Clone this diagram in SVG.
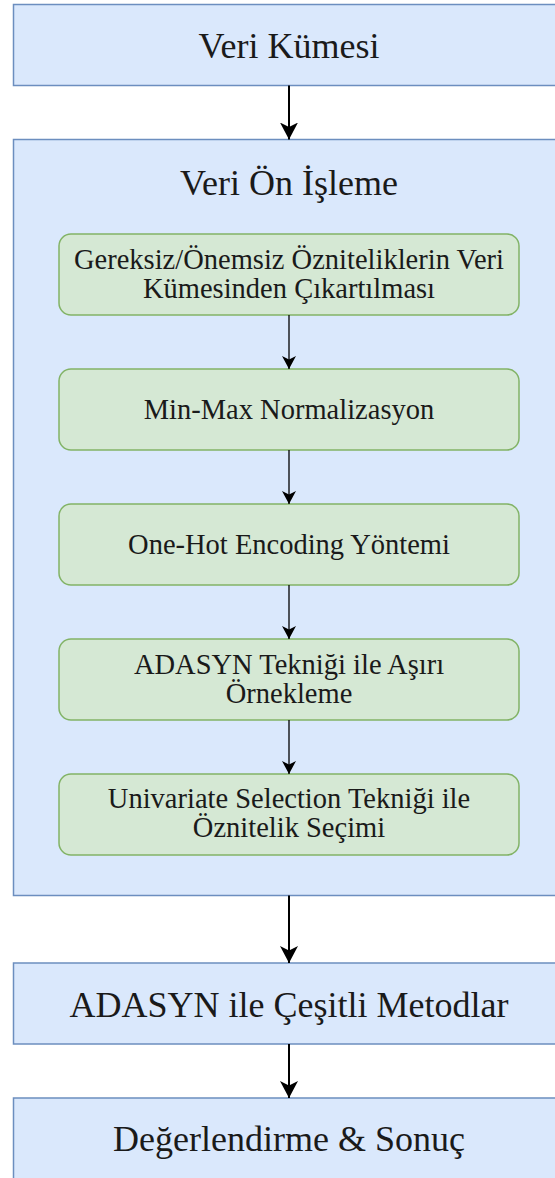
<svg xmlns="http://www.w3.org/2000/svg" width="555" height="1178" viewBox="0 0 555 1178">
  <defs>
    <style>
      .stage { fill: #dae8fc; stroke: #6c8ebf; stroke-width: 1.5; }
      .step { fill: #d5e8d4; stroke: #82b366; stroke-width: 1.5; }
      .big { font-family: "Liberation Serif", "Times New Roman", serif; font-size: 36px; fill: #1a1a1a; text-anchor: middle; }
      .small { font-family: "Liberation Serif", "Times New Roman", serif; font-size: 28.5px; fill: #1a1a1a; text-anchor: middle; }
      .flow { stroke: #000; stroke-width: 2; fill: none; }
      .subflow { stroke: #000; stroke-width: 1.3; fill: none; }
    </style>
    <marker id="headBig" markerUnits="userSpaceOnUse" markerWidth="18" markerHeight="18" refX="17" refY="9" orient="auto">
      <path d="M0,0 L17,9 L0,18 L4.5,9 Z" fill="#000"/>
    </marker>
    <marker id="headSmall" markerUnits="userSpaceOnUse" markerWidth="14" markerHeight="14" refX="13" refY="7" orient="auto">
      <path d="M0,0 L13,7 L0,14 L3.5,7 Z" fill="#000"/>
    </marker>
  </defs>

  <g id="veri-kumesi">
    <rect class="stage" x="13.5" y="4.5" width="560" height="81"/>
    <text class="big" x="289" y="58">Veri Kümesi</text>
  </g>

  <g id="veri-on-isleme">
    <rect class="stage" x="13.5" y="139.5" width="560" height="756"/>
    <text class="big" x="289" y="195">Veri Ön İşleme</text>
  </g>

  <g id="step-cikartma">
    <rect class="step" x="59" y="234" width="460" height="81" rx="12"/>
    <text class="small" x="289" y="268.5">Gereksiz/Önemsiz Özniteliklerin Veri</text>
    <text class="small" x="289" y="297.5">Kümesinden Çıkartılması</text>
  </g>

  <g id="step-minmax">
    <rect class="step" x="59" y="369" width="460" height="81" rx="12"/>
    <text class="small" x="289" y="418.5">Min-Max Normalizasyon</text>
  </g>

  <g id="step-onehot">
    <rect class="step" x="59" y="504" width="460" height="81" rx="12"/>
    <text class="small" x="289" y="553.5">One-Hot Encoding Yöntemi</text>
  </g>

  <g id="step-adasyn">
    <rect class="step" x="59" y="639" width="460" height="81" rx="12"/>
    <text class="small" x="289" y="673.5">ADASYN Tekniği ile Aşırı</text>
    <text class="small" x="289" y="702.5">Örnekleme</text>
  </g>

  <g id="step-univariate">
    <rect class="step" x="59" y="774" width="460" height="81" rx="12"/>
    <text class="small" x="289" y="808">Univariate Selection Tekniği ile</text>
    <text class="small" x="289" y="837">Öznitelik Seçimi</text>
  </g>

  <g id="adasyn-metodlar">
    <rect class="stage" x="13.5" y="963" width="560" height="81"/>
    <text class="big" x="289" y="1016.5">ADASYN ile Çeşitli Metodlar</text>
  </g>

  <g id="degerlendirme">
    <rect class="stage" x="13.5" y="1098" width="560" height="100"/>
    <text class="big" x="289" y="1151">Değerlendirme &amp; Sonuç</text>
  </g>

  <g id="connectors">
    <line class="flow" x1="289" y1="85.5" x2="289" y2="139.5" marker-end="url(#headBig)"/>
    <line class="subflow" x1="289" y1="315" x2="289" y2="369" marker-end="url(#headSmall)"/>
    <line class="subflow" x1="289" y1="450" x2="289" y2="504" marker-end="url(#headSmall)"/>
    <line class="subflow" x1="289" y1="585" x2="289" y2="639" marker-end="url(#headSmall)"/>
    <line class="subflow" x1="289" y1="720" x2="289" y2="774" marker-end="url(#headSmall)"/>
    <line class="flow" x1="289" y1="895.5" x2="289" y2="963" marker-end="url(#headBig)"/>
    <line class="flow" x1="289" y1="1044" x2="289" y2="1098" marker-end="url(#headBig)"/>
  </g>
</svg>
